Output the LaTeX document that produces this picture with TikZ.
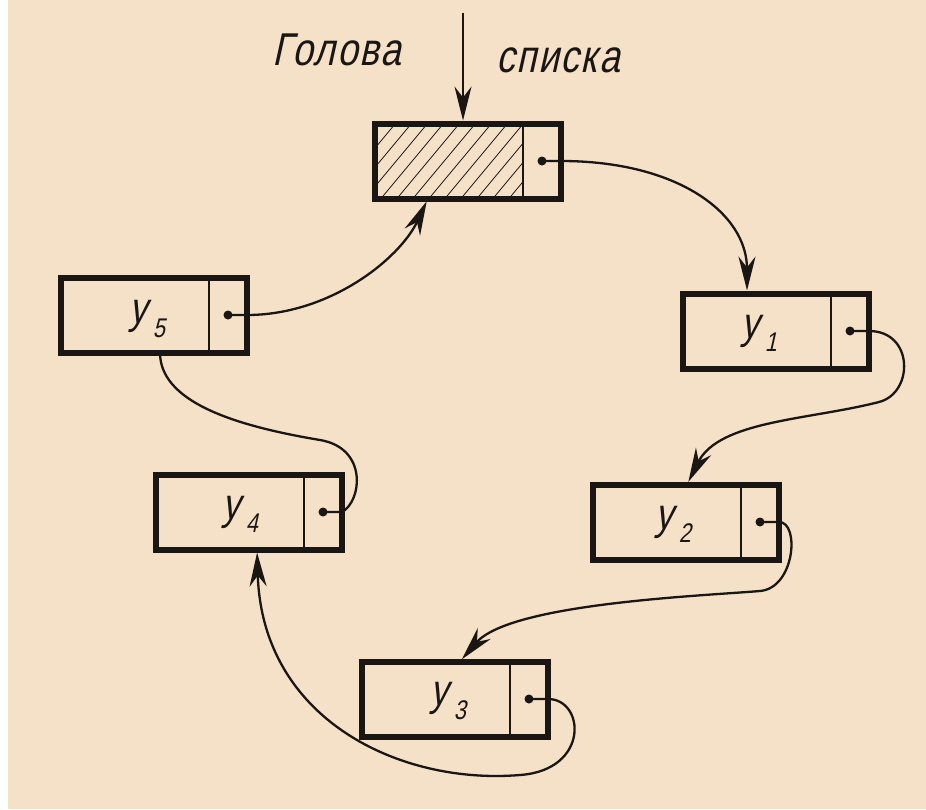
\documentclass[tikz,border=0pt]{standalone}
\usepackage{fontspec}
\setmainfont{Liberation Sans}[FakeStretch=0.8, FakeSlant=0.22, LetterSpace=4]
\usetikzlibrary{arrows.meta, positioning}
\definecolor{paper}{HTML}{F5E0C8}
\definecolor{ink}{HTML}{1A1614}
\newcommand{\yname}[1]{y\kern6pt\raisebox{-0.3em}{\fontsize{27}{27}\selectfont #1}}

\begin{document}
\begin{tikzpicture}[
  x=1pt,
  y=-1pt,
  every node/.style={ink},
  datacell/.style={draw=ink, line width=1.3pt, outer sep=0pt, inner sep=0pt,
                   minimum width=148pt, minimum height=75pt},
  ptrcell/.style={draw=ink, line width=1.3pt, outer sep=0pt, inner sep=0pt,
                  minimum width=38pt, minimum height=75pt},
  recframe/.style={draw=ink, line width=6pt},
  knot/.style={circle, fill=ink, inner sep=0pt, minimum size=9pt},
  tail/.style={ink, line width=2.3pt},
  link/.style={tail, shorten >=3pt,
               -{Stealth[length=34pt, width=17pt, inset=11pt]}},
  hatch/.style={ink, line width=0.8pt},
  caption/.style={font=\fontsize{46}{50}\selectfont, anchor=base},
  ylabel/.style={font=\fontsize{44}{48}\selectfont}
]
  % ---- paper ----
  \fill[white] (0,0) rectangle (926,809);
  \fill[paper] (8,0) rectangle (926,809);
  \useasboundingbox (0,0) rectangle (926,809);

  % ---- list records: data cell + pointer cell ----
  \node[datacell] (head) at (449,161) {};
  \node[datacell] (y1) at (757,331) {};
  \node[datacell] (y2) at (667,522) {};
  \node[datacell] (y3) at (436,699) {};
  \node[datacell] (y4) at (230,512) {};
  \node[datacell] (y5) at (135,315) {};
  \foreach \r in {head,y1,y2,y3,y4,y5}
    \node[ptrcell, right=0pt of \r] (\r p) {};

  % ---- hatched head cell ----
  \begin{scope}
    \clip (head.south west) rectangle (head.north east);
    \foreach \k in {0,...,16}
      \draw[hatch] ([xshift=\k*16pt-90pt]head.south west) -- ++(100,-120);
  \end{scope}

  % ---- thick outlines ----
  \foreach \r in {head,y1,y2,y3,y4,y5}
    \draw[recframe] (\r.north west) rectangle (\r p.south east);

  % ---- values ----
  \node[ylabel] (y1t) at ([xshift=2pt, yshift=-2pt]y1.center) {\yname{1}};
  \node[ylabel] (y2t) at ([xshift=6pt, yshift=-2pt]y2.center) {\yname{2}};
  \node[ylabel] (y3t) at ([xshift=12pt, yshift=-2pt]y3.center) {\yname{3}};
  \node[ylabel] (y4t) at ([xshift=10pt, yshift=-2pt]y4.center) {\yname{4}};
  \node[ylabel] (y5t) at ([xshift=12pt, yshift=-4pt]y5.center) {\yname{5}};

  % ---- pointer dots ----
  \foreach \r in {head,y1,y2,y3,y4,y5}
    \node[knot] (\r k) at (\r p.center) {};

  % ---- entry pointer ----
  \coordinate (entry) at ([xshift=14pt, yshift=111pt]head.north);
  \draw[link] (entry) -- ([xshift=14pt]head.north);
  \node[caption] (capl) at (337,65) {Голова};
  \node[caption] (capr) at (558,72) {списка};

  % ---- bend points of the links ----
  \coordinate (j1) at ([xshift=10pt, yshift=-71pt]y1p.east);
  \coordinate (j2) at ([xshift=-19pt, yshift=-69pt]y2p.east);
  \coordinate (j3) at ([xshift=-28pt, yshift=-76pt]y3p.east);
  \coordinate (j4) at ([xshift=-22pt, yshift=72pt]y4p.east);

  % ---- links ----
  \draw[link] (headk.center) -- (headp.east)
    .. controls +(117,0) and +(0,-80) .. ([xshift=-10pt]y1.north);
  \draw[link] (y1k.center) -- (y1p.east)
    .. controls +(45,0) and +(35,-9) .. (j1)
    .. controls +(-70,18) and +(32,-64) .. ([xshift=20pt]y2.north);
  \draw[link] (y2k.center) -- (y2p.east)
    .. controls +(21,0) and +(35,-3) .. (j2)
    .. controls +(-60,5) and +(50,-58) .. ([xshift=24pt]y3.north);
  \draw[link] (y3k.center) -- (y3p.east)
    .. controls +(37,0) and +(70,-5) .. (j3)
    .. controls +(-120,10) and +(5,170) .. ([xshift=27pt]y4.south);
  \draw[tail] (y4k.center) -- (y4p.east)
    .. controls +(20,-11) and +(48,8) .. (j4)
    .. controls +(-90,-15) and +(0,48) .. ([xshift=25pt]y5.south);
  \draw[link] (y5k.center) -- (y5p.east)
    .. controls +(83,0) and +(-28,60) .. ([xshift=-21pt]head.south);
\end{tikzpicture}
\end{document}
